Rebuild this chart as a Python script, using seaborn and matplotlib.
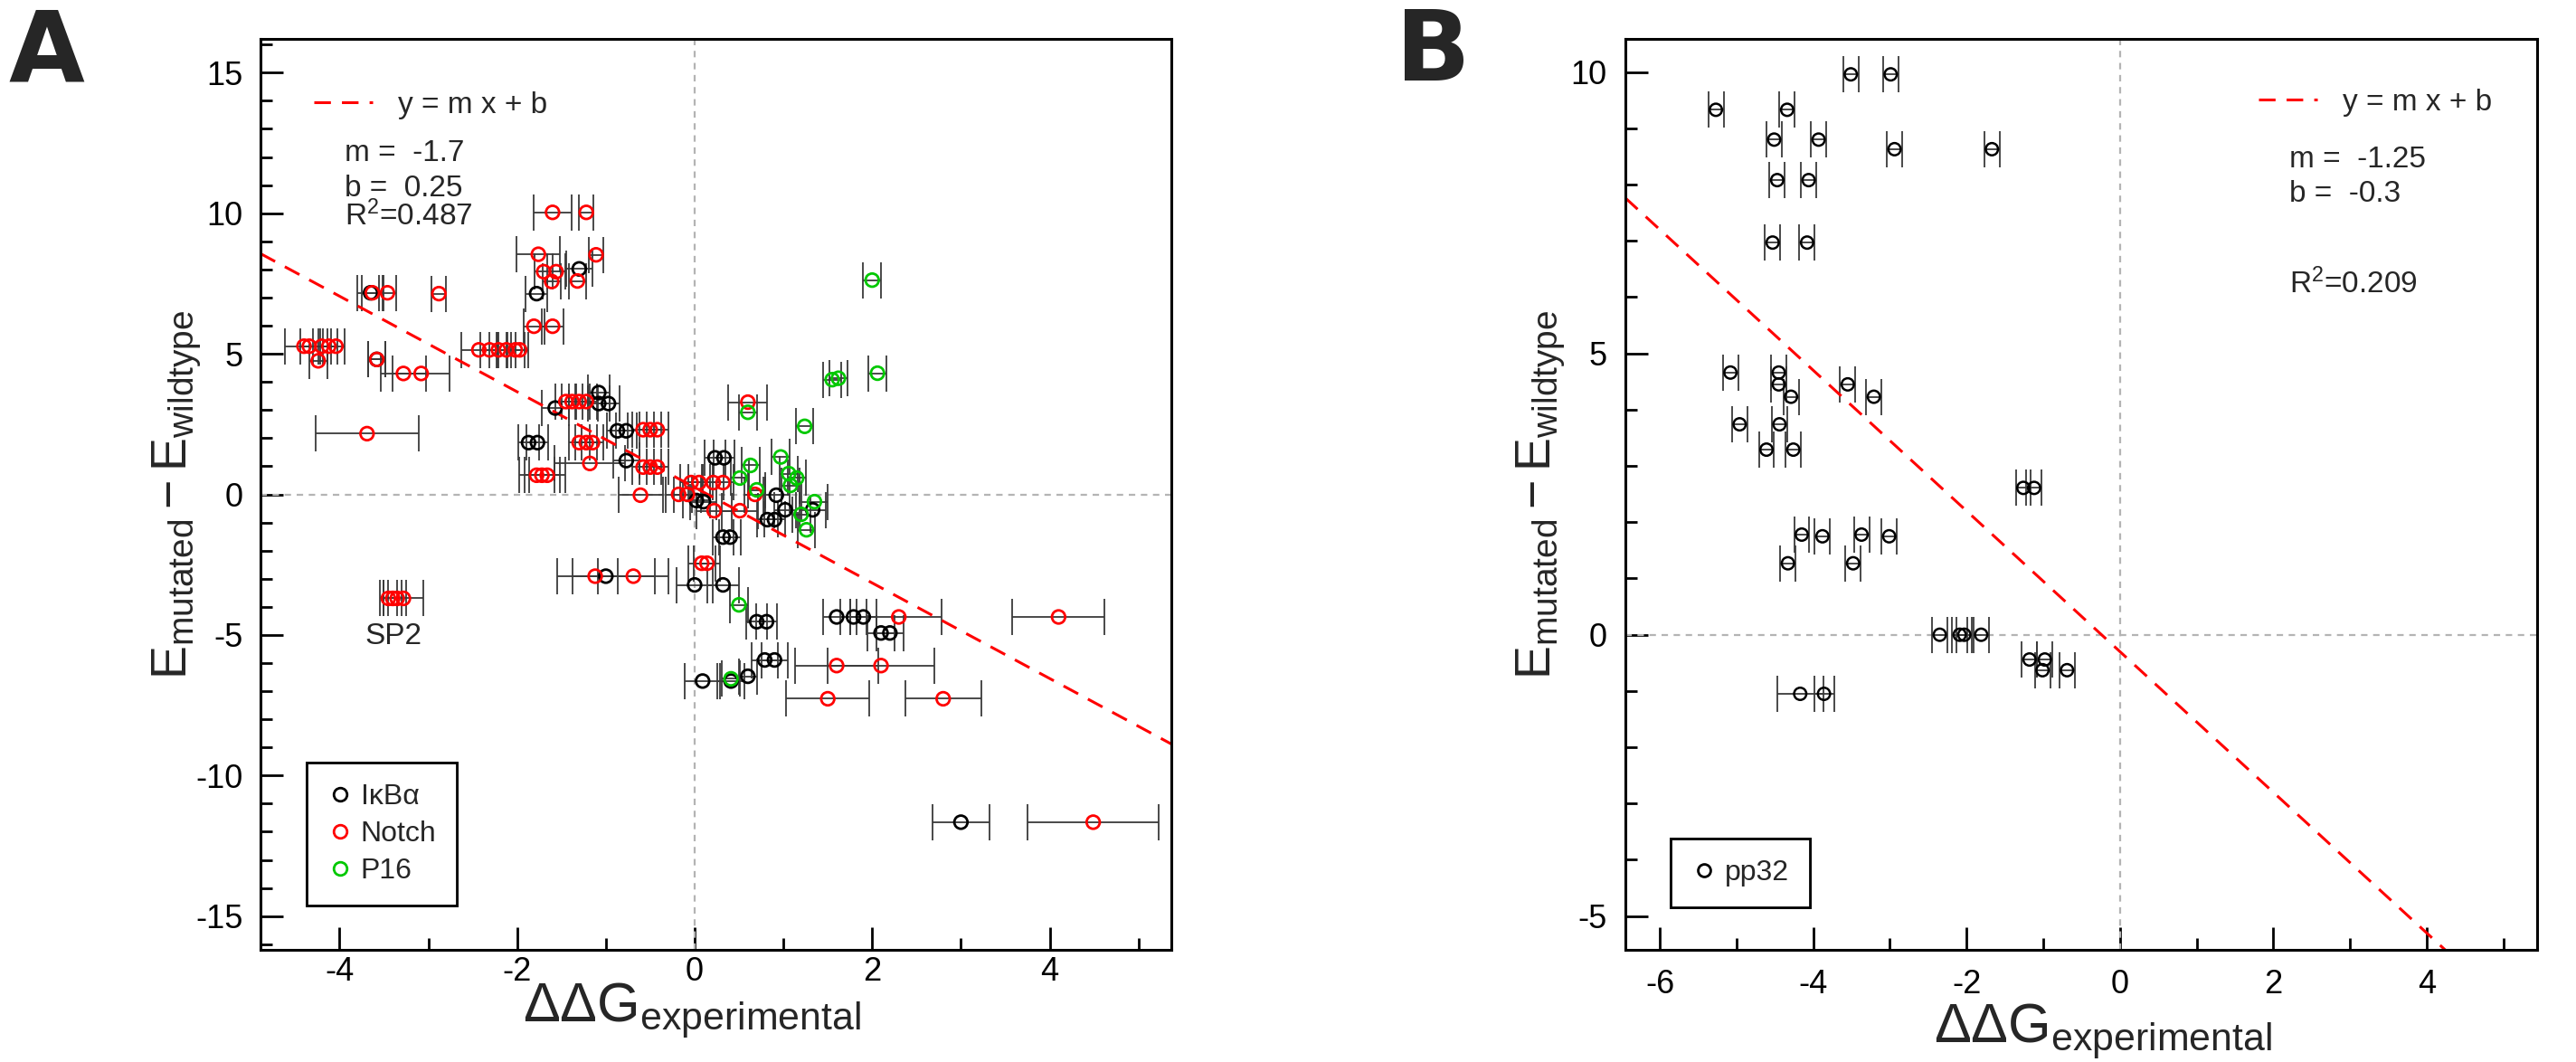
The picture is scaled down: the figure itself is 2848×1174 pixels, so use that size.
import numpy as np
import pandas as pd
import matplotlib
matplotlib.use("Agg")
import matplotlib.pyplot as plt
import seaborn as sns
from matplotlib.lines import Line2D
from matplotlib.ticker import MultipleLocator

# ---------------- Panel A data ----------------
ikba_x = [-3.65, -1.78, -1.30, -3.58, -1.57, -1.08, -1.08, -0.97, -1.87, -1.77,
          -0.87, -0.77, -0.77, 0.23, 0.33, 0.02, 0.10, 0.92, 0.82, 0.90,
          1.02, 1.33, 0.32, 0.40, -1.00, 0.00, 0.32, 0.70, 0.81, 1.60,
          1.79, 1.90, 2.10, 2.20, 0.79, 0.90, 0.09, 0.41, 0.60, 3.00]
ikba_y = [7.17, 7.14, 8.02, 4.80, 3.07, 3.62, 3.23, 3.23, 1.84, 1.84,
          2.26, 2.26, 1.20, 1.30, 1.30, -0.22, -0.26, -0.03, -0.90, -0.90,
          -0.55, -0.55, -1.52, -1.52, -2.91, -3.22, -3.22, -4.53, -4.53, -4.36,
          -4.36, -4.36, -4.93, -4.93, -5.89, -5.89, -6.64, -6.64, -6.47, -11.66]
ikba_xerr = [0.15, 0.12, 0.15, 0.10, 0.15, 0.12, 0.12, 0.12, 0.12, 0.12,
             0.12, 0.12, 0.15, 0.12, 0.12, 0.15, 0.15, 0.15, 0.12, 0.12,
             0.12, 0.15, 0.12, 0.12, 0.55, 0.20, 0.18, 0.12, 0.12, 0.15,
             0.15, 0.15, 0.15, 0.15, 0.15, 0.15, 0.20, 0.15, 0.10, 0.32]

notch_x = [-1.60, -1.22, -1.76, -1.11, -1.70, -1.56, -1.61, -1.32, -3.63, -3.46,
           -2.88, -1.81, -1.60, -4.40, -4.34, -4.20, -4.12, -4.04, -4.24, -3.58,
           -3.28, -3.08, -2.43, -2.31, -2.21, -2.12, -2.02, -1.97, -3.69, -1.45,
           -1.38, -1.30, -1.22, -1.30, -1.22, -1.15, -1.18, -1.78, -1.72, -1.66,
           -0.58, -0.50, -0.42, -0.58, -0.50, -0.42, -0.61, -0.18, -0.08, -0.04,
           0.05, 0.21, 0.32, 0.22, 0.51, 0.68, 0.60, 0.08, 0.14, -3.45,
           -3.40, -3.35, -3.28, -1.12, -0.69, 2.30, 4.10, 1.60, 2.10, 1.50,
           2.80, 4.49]
notch_y = [10.03, 10.03, 8.54, 8.52, 7.92, 7.92, 7.57, 7.59, 7.17, 7.17,
           7.14, 5.98, 5.98, 5.27, 5.27, 5.27, 5.27, 5.27, 4.75, 4.80,
           4.30, 4.30, 5.14, 5.14, 5.14, 5.14, 5.14, 5.14, 2.16, 3.30,
           3.30, 3.30, 3.30, 1.84, 1.84, 1.84, 1.10, 0.68, 0.68, 0.68,
           2.30, 2.30, 2.30, 0.97, 0.97, 0.97, -0.03, 0.00, 0.00, 0.42,
           0.42, 0.42, 0.42, -0.58, -0.58, 0.00, 3.28, -2.45, -2.45, -3.70,
           -3.70, -3.70, -3.70, -2.91, -2.91, -4.36, -4.36, -6.09, -6.09, -7.27,
           -7.27, -11.66]
notch_xerr = [0.21, 0.08, 0.245, 0.08, 0.10, 0.10, 0.10, 0.10, 0.12, 0.10,
              0.08, 0.12, 0.12, 0.21, 0.10, 0.10, 0.10, 0.10, 0.10, 0.10,
              0.25, 0.32, 0.20, 0.10, 0.10, 0.10, 0.10, 0.10, 0.58, 0.12,
              0.12, 0.12, 0.12, 0.12, 0.12, 0.12, 0.40, 0.20, 0.20, 0.20,
              0.12, 0.12, 0.12, 0.12, 0.12, 0.12, 0.25, 0.15, 0.15, 0.12,
              0.12, 0.12, 0.12, 0.20, 0.20, 0.12, 0.22, 0.15, 0.15, 0.10,
              0.10, 0.10, 0.22, 0.25, 0.40, 0.48, 0.52, 0.47, 0.60, 0.47,
              0.43, 0.74]

p16_x = [2.00, 2.06, 1.55, 1.62, 0.60, 1.24, 0.97, 0.63, 0.51, 1.06,
         1.15, 1.08, 0.70, 1.35, 1.20, 1.26, 0.50, 0.41]
p16_y = [7.62, 4.31, 4.08, 4.13, 2.92, 2.42, 1.33, 1.03, 0.58, 0.74,
         0.58, 0.32, 0.16, -0.26, -0.71, -1.26, -3.93, -6.56]
p16_xerr = [0.10, 0.10, 0.10, 0.10, 0.10, 0.10, 0.10, 0.10, 0.10, 0.10,
            0.10, 0.10, 0.10, 0.15, 0.10, 0.10, 0.10, 0.10]

series_A = ["I\u03baB\u03b1", "Notch", "P16"]
colors_A = ["#000000", "#ff0000", "#00c800"]
fitA_m, fitA_b, fitA_r2 = -1.7, 0.25, 0.487

# ---------------- Panel B data ----------------
pp32_x = [-5.27, -4.34, -3.51, -2.99, -4.51, -3.93, -2.94, -1.67, -4.47, -4.06,
          -4.53, -4.08, -5.08, -4.45, -4.45, -4.29, -3.55, -3.21, -4.96, -4.44,
          -4.61, -4.26, -1.26, -1.12, -4.15, -3.88, -3.37, -3.01, -4.33, -3.48,
          -2.35, -2.09, -2.03, -1.81, -4.17, -3.86, -1.18, -0.98, -1.01, -0.69]
pp32_y = [9.33, 9.33, 9.96, 9.96, 8.80, 8.80, 8.63, 8.63, 8.08, 8.08,
          6.97, 6.97, 4.66, 4.66, 4.45, 4.23, 4.45, 4.23, 3.74, 3.74,
          3.29, 3.29, 2.61, 2.61, 1.78, 1.75, 1.78, 1.75, 1.27, 1.27,
          0.00, 0.00, 0.00, 0.00, -1.05, -1.05, -0.44, -0.44, -0.63, -0.63]
pp32_xerr = [0.10, 0.10, 0.10, 0.10, 0.10, 0.10, 0.10, 0.10, 0.10, 0.10,
             0.10, 0.10, 0.10, 0.10, 0.10, 0.10, 0.10, 0.10, 0.10, 0.10,
             0.10, 0.10, 0.10, 0.10, 0.10, 0.10, 0.10, 0.10, 0.10, 0.10,
             0.10, 0.10, 0.10, 0.10, 0.30, 0.13, 0.10, 0.10, 0.10, 0.10]
series_B = ["pp32"]
colors_B = ["#000000"]
fitB_m, fitB_b, fitB_r2 = -1.25, -0.3, 0.209

# ---------------- style ----------------
sns.set_theme(style="white")
plt.rcParams["font.family"] = ["Liberation Sans", "DejaVu Sans"]
plt.rcParams["mathtext.fontset"] = "custom"
plt.rcParams["mathtext.rm"] = "Liberation Sans"
plt.rcParams["mathtext.it"] = "Liberation Sans:italic"
plt.rcParams["mathtext.bf"] = "Liberation Sans:bold"
plt.rcParams["axes.unicode_minus"] = False

dfA = pd.concat([
    pd.DataFrame({"x": ikba_x, "y": ikba_y, "xerr": ikba_xerr, "protein": series_A[0]}),
    pd.DataFrame({"x": notch_x, "y": notch_y, "xerr": notch_xerr, "protein": series_A[1]}),
    pd.DataFrame({"x": p16_x, "y": p16_y, "xerr": p16_xerr, "protein": series_A[2]}),
], ignore_index=True)
dfB = pd.DataFrame({"x": pp32_x, "y": pp32_y, "xerr": pp32_xerr, "protein": series_B[0]})

W, H = 2848, 1174
fig = plt.figure(figsize=(W / 100, H / 100), dpi=100)
axA = fig.add_axes([288 / W, (H - 1050) / H, 1007 / W, 1007 / H])
axB = fig.add_axes([1797 / W, (H - 1050) / H, 1008 / W, 1007 / H])

FIT_LS = (0, (6, 4))
TXT = 24


def draw_panel(ax, df, names, cols, s, mew, m, b):
    ax.axhline(0, color="#b4b4b4", lw=1.6, ls=(0, (3.2, 2.8)), zorder=1)
    ax.axvline(0, color="#b4b4b4", lw=1.6, ls=(0, (3.2, 2.8)), zorder=1)
    for nm in names:
        sub = df[df["protein"] == nm]
        ax.errorbar(sub["x"], sub["y"], xerr=sub["xerr"], fmt="none",
                    ecolor="#3a3a3a", elinewidth=1.3, capsize=14.4,
                    capthick=1.3, zorder=2)
    ax.axline((0, b), slope=m, color="#ff0000", lw=2.2, ls=FIT_LS, zorder=2.5)
    sns.scatterplot(data=df, x="x", y="y", hue="protein", hue_order=names,
                    palette=dict(zip(names, cols)), s=s, linewidth=mew,
                    legend=False, ax=ax, zorder=3)
    pc = ax.collections[-1]
    pc.set_edgecolors(pc.get_facecolors())
    pc.set_facecolors("none")
    for sp in ax.spines.values():
        sp.set_visible(True)
        sp.set_color("black")
        sp.set_linewidth(2.2)
    ax.set_xlabel("")
    ax.set_ylabel("")


draw_panel(axA, dfA, series_A, colors_A, 110, 2.0, fitA_m, fitA_b)
draw_panel(axB, dfB, series_B, colors_B, 95, 1.8, fitB_m, fitB_b)

axA.set_xlim(-4.89, 5.37)
axA.set_ylim(-16.2, 16.2)
axA.xaxis.set_major_locator(MultipleLocator(2))
axA.xaxis.set_minor_locator(MultipleLocator(1))
axA.yaxis.set_major_locator(MultipleLocator(5))
axA.yaxis.set_minor_locator(MultipleLocator(1))

axB.set_xlim(-6.45, 5.44)
axB.set_ylim(-5.6, 10.59)
axB.xaxis.set_major_locator(MultipleLocator(2))
axB.xaxis.set_minor_locator(MultipleLocator(1))
axB.yaxis.set_major_locator(MultipleLocator(5))
axB.yaxis.set_minor_locator(MultipleLocator(1))

for ax, xpad, ypad in ((axA, 5, 14), (axB, 15, 15)):
    ax.tick_params(which="both", direction="in", top=False, right=False,
                   left=True, bottom=True, width=2.0, color="black",
                   labelsize=26, labelcolor="black")
    ax.tick_params(which="major", length=18)
    ax.tick_params(which="minor", length=9.5)
    ax.tick_params(axis="x", which="both", pad=xpad)
    ax.tick_params(axis="y", which="both", pad=ypad)
    ax.set_ylabel(r"$\mathregular{E_{mutated} - E_{wildtype}}$", fontsize=40)
    ax.yaxis.set_label_coords(-0.063, 0.5)
    ax.set_xlabel(r"$\mathregular{\Delta\Delta G_{experimental}}$", fontsize=44)

axA.xaxis.set_label_coords(0.474, -0.034)
axB.xaxis.set_label_coords(0.524, -0.057)


def fit_legend(ax, x0, yc):
    h = Line2D([], [], color="#ff0000", lw=2.2, ls=FIT_LS)
    lg = ax.legend([h], ["y = m x + b"], frameon=False, loc="center left",
                   bbox_to_anchor=(x0, yc), borderpad=0, borderaxespad=0,
                   handlelength=1.95, handletextpad=0.85, fontsize=TXT)
    ax.add_artist(lg)


def group_legend(ax, names, cols, x0, y0, ms):
    hs = [Line2D([], [], ls="none", marker="o", ms=ms, mfc="none", mec=c,
                 mew=2.0) for c in cols]
    lg = ax.legend(hs, names, loc="lower left", bbox_to_anchor=(x0, y0),
                   borderaxespad=0, frameon=True, fancybox=False,
                   fontsize=TXT - 1, handlelength=0.85, handletextpad=0.3,
                   labelspacing=0.35, borderpad=0.72)
    fr = lg.get_frame()
    fr.set_edgecolor("black")
    fr.set_linewidth(2.0)
    fr.set_facecolor("white")
    fr.set_alpha(1)
    ax.add_artist(lg)


fit_legend(axA, 0.0585, 0.927)
group_legend(axA, series_A, colors_A, 0.0506, 0.0486, 10.5)
axA.text(0.092, 0.866, f"m =  {fitA_m:g}", transform=axA.transAxes,
         fontsize=TXT, va="baseline", ha="left")
axA.text(0.092, 0.8276, f"b =  {fitA_b:g}", transform=axA.transAxes,
         fontsize=TXT, va="baseline", ha="left")
axA.text(0.092, 0.7958, r"$\mathregular{R^2}$=" + f"{fitA_r2:g}",
         transform=axA.transAxes, fontsize=TXT, va="baseline", ha="left")
axA.text(-3.39, -5.06, "SP2", fontsize=TXT, ha="center", va="center")

fit_legend(axB, 0.694, 0.930)
group_legend(axB, series_B, colors_B, 0.0496, 0.0468, 10.0)
axB.text(0.728, 0.8587, f"m =  {fitB_m:g}", transform=axB.transAxes,
         fontsize=TXT, va="baseline", ha="left")
axB.text(0.728, 0.8209, f"b =  {fitB_b:g}", transform=axB.transAxes,
         fontsize=TXT, va="baseline", ha="left")
axB.text(0.728, 0.7204, r"$\mathregular{R^2}$=" + f"{fitB_r2:g}",
         transform=axB.transAxes, fontsize=TXT, va="baseline", ha="left")

fig.text(9 / W, 1 - 6 / H, "A", fontsize=78, fontweight="bold",
         family="DejaVu Sans", ha="left", va="top")
fig.text(1543 / W, 1 - 6 / H, "B", fontsize=78, fontweight="bold",
         family="DejaVu Sans", ha="left", va="top")

fig.savefig("out.png", dpi=100, facecolor="white")
